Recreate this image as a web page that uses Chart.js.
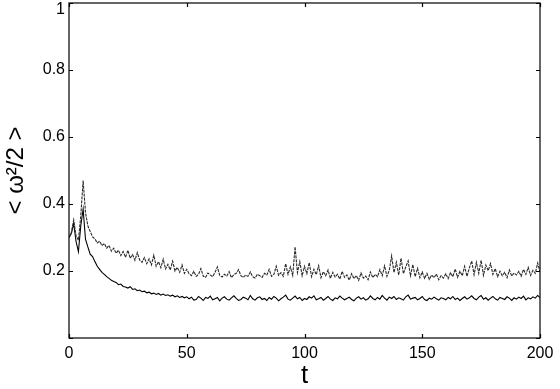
<!DOCTYPE html>
<html>
<head>
<meta charset="utf-8">
<script src="https://cdn.jsdelivr.net/npm/chart.js@4"></script>
<style>
  html, body { margin: 0; padding: 0; background: #fff; }
  #box { width: 560px; height: 389px; }
</style>
</head>
<body>
<div id="box"><canvas id="enstrophy"></canvas></div>
<script>
// time samples, t = 0 .. 200 (one per unit of time)
const times = Array.from({length: 201}, (_, i) => i);

const xTicks = [0, 50, 100, 150, 200];
const yTicks = [0, 0.2, 0.4, 0.6, 0.8, 1];

// lower curve (settles near 0.12)
const lowerCurve = [
  0.300, 0.312, 0.342, 0.288, 0.258, 0.335, 0.385, 0.295, 0.272, 0.250, 0.243,
  0.228, 0.214, 0.205, 0.196, 0.190, 0.183, 0.178, 0.172, 0.169, 0.166,
  0.159, 0.161, 0.154, 0.152, 0.149, 0.153, 0.145, 0.147, 0.141, 0.143,
  0.138, 0.140, 0.135, 0.137, 0.132, 0.134, 0.130, 0.133, 0.128, 0.131,
  0.127, 0.129, 0.125, 0.128, 0.123, 0.126, 0.121, 0.124, 0.120, 0.123,
  0.117, 0.122, 0.113, 0.115, 0.124, 0.119, 0.112, 0.121, 0.118, 0.125,
  0.114, 0.117, 0.121, 0.111, 0.119, 0.123, 0.116, 0.113, 0.120, 0.126,
  0.118, 0.112, 0.115, 0.122, 0.119, 0.114, 0.127, 0.117, 0.113, 0.120,
  0.123, 0.115, 0.118, 0.112, 0.121, 0.116, 0.124, 0.119, 0.111, 0.117,
  0.122, 0.128, 0.116, 0.113, 0.119, 0.125, 0.117, 0.121, 0.112, 0.118,
  0.115, 0.123, 0.119, 0.126, 0.114, 0.117, 0.121, 0.113, 0.118, 0.124,
  0.116, 0.112, 0.120, 0.117, 0.125, 0.119, 0.114, 0.118, 0.122, 0.115,
  0.111, 0.119, 0.123, 0.116, 0.120, 0.113, 0.117, 0.126, 0.118, 0.114,
  0.121, 0.116, 0.127, 0.119, 0.113, 0.122, 0.118, 0.124, 0.115, 0.120,
  0.117, 0.113, 0.123, 0.128, 0.116, 0.119, 0.121, 0.114, 0.118, 0.124,
  0.115, 0.112, 0.119, 0.116, 0.122, 0.117, 0.113, 0.120, 0.118, 0.114,
  0.121, 0.117, 0.124, 0.115, 0.119, 0.112, 0.118, 0.123, 0.116, 0.120,
  0.126, 0.118, 0.114, 0.122, 0.127, 0.116, 0.120, 0.113, 0.119, 0.124,
  0.117, 0.113, 0.121, 0.118, 0.115, 0.123, 0.119, 0.112, 0.120, 0.116,
  0.122, 0.118, 0.125, 0.114, 0.120, 0.117, 0.123, 0.119, 0.127, 0.121
];

// upper curve (settles near 0.19, bursty)
const upperCurve = [
  0.300, 0.315, 0.352, 0.305, 0.292, 0.365, 0.470, 0.375, 0.335, 0.318, 0.302,
  0.296, 0.284, 0.289, 0.276, 0.282, 0.268, 0.276, 0.259, 0.268, 0.253,
  0.262, 0.246, 0.258, 0.241, 0.262, 0.238, 0.249, 0.232, 0.255, 0.233,
  0.226, 0.240, 0.222, 0.236, 0.218, 0.247, 0.214, 0.228, 0.210, 0.235,
  0.206, 0.220, 0.203, 0.229, 0.200, 0.211, 0.196, 0.218, 0.193, 0.205,
  0.192, 0.186, 0.199, 0.184, 0.190, 0.207, 0.185, 0.181, 0.194, 0.188,
  0.183, 0.196, 0.212, 0.187, 0.182, 0.190, 0.185, 0.198, 0.180, 0.189,
  0.193, 0.204, 0.186, 0.181, 0.188, 0.184, 0.197, 0.183, 0.179, 0.190,
  0.186, 0.181, 0.193, 0.188, 0.205, 0.184, 0.190, 0.214, 0.187, 0.195,
  0.184, 0.222, 0.190, 0.212, 0.187, 0.272, 0.195, 0.228, 0.186, 0.214,
  0.192, 0.225, 0.183, 0.205, 0.189, 0.216, 0.180, 0.198, 0.186, 0.203,
  0.178, 0.196, 0.182, 0.190, 0.176, 0.199, 0.181, 0.188, 0.173, 0.192,
  0.177, 0.186, 0.172, 0.194, 0.179, 0.185, 0.174, 0.197, 0.180, 0.190,
  0.183, 0.204, 0.186, 0.215, 0.184, 0.202, 0.245, 0.195, 0.226, 0.188,
  0.238, 0.192, 0.212, 0.230, 0.186, 0.219, 0.183, 0.208, 0.180, 0.197,
  0.178, 0.193, 0.175, 0.188, 0.180, 0.191, 0.174, 0.186, 0.179, 0.192,
  0.177, 0.195, 0.183, 0.206, 0.181, 0.199, 0.186, 0.214, 0.184, 0.209,
  0.230, 0.189, 0.226, 0.193, 0.232, 0.187, 0.218, 0.201, 0.222, 0.190,
  0.207, 0.183, 0.199, 0.186, 0.196, 0.180, 0.203, 0.185, 0.194, 0.188,
  0.199, 0.184, 0.205, 0.190, 0.211, 0.187, 0.202, 0.193, 0.224, 0.198
];

const FONT = '"Liberation Sans", Arial, Helvetica, sans-serif';

// box around the plot, inward tick marks, and the "1" label tucked under the top
const boxTicks = {
  id: 'boxTicks',
  afterDraw(chart) {
    const ctx = chart.ctx;
    const a = chart.chartArea;
    const xs = chart.scales.x, ys = chart.scales.y;
    const len = 4;
    ctx.save();
    ctx.strokeStyle = '#000';
    ctx.lineWidth = 1.2;
    ctx.strokeRect(a.left, a.top, a.right - a.left, a.bottom - a.top);
    ctx.beginPath();
    xTicks.forEach(v => {
      const px = Math.round(xs.getPixelForValue(v)) + 0.5;
      ctx.moveTo(px, a.bottom); ctx.lineTo(px, a.bottom - len);
      ctx.moveTo(px, a.top);    ctx.lineTo(px, a.top + len);
    });
    yTicks.forEach(v => {
      const py = Math.round(ys.getPixelForValue(v)) + 0.5;
      ctx.moveTo(a.left, py);  ctx.lineTo(a.left + len, py);
      ctx.moveTo(a.right, py); ctx.lineTo(a.right - len, py);
    });
    ctx.stroke();
    // top tick label would be cut by the canvas edge, so draw it just below
    ctx.fillStyle = '#000';
    ctx.font = '16px ' + FONT;
    ctx.textAlign = 'right';
    ctx.textBaseline = 'middle';
    ctx.fillText('1', a.left - 4, ys.getPixelForValue(1) + 7);
    ctx.restore();
  }
};

const chart = new Chart(document.getElementById('enstrophy'), {
  type: 'line',
  data: {
    labels: times,
    datasets: [
      {
        label: 'upper',
        data: upperCurve,
        borderColor: '#2a2a2a',
        borderWidth: 1.1,
        borderDash: [3, 1],
        pointRadius: 0,
        tension: 0
      },
      {
        label: 'lower',
        data: lowerCurve,
        borderColor: '#000',
        borderWidth: 1.1,
        pointRadius: 0,
        tension: 0
      }
    ]
  },
  options: {
    responsive: true,
    maintainAspectRatio: false,
    animation: false,
    layout: { padding: { top: 3, right: 20, left: 0, bottom: 0 } },
    plugins: {
      legend: { display: false },
      tooltip: { enabled: false }
    },
    scales: {
      x: {
        type: 'linear',
        min: 0,
        max: 200,
        afterFit: s => { s.height = 51; },
        afterBuildTicks: s => { s.ticks = xTicks.map(v => ({ value: v })); },
        grid: { display: false, drawTicks: false },
        border: { display: false },
        ticks: {
          padding: 6,
          maxRotation: 0,
          color: '#000',
          font: { family: FONT, size: 16 },
          callback: v => String(v)
        },
        title: {
          display: true,
          text: 't',
          color: '#000',
          padding: { top: 0, bottom: -2 },
          font: { family: FONT, size: 26 }
        }
      },
      y: {
        min: 0,
        max: 1,
        afterFit: s => { s.width = 69; s.paddingTop = 0; s.paddingBottom = 0; },
        afterBuildTicks: s => { s.ticks = yTicks.map(v => ({ value: v })); },
        grid: { display: false, drawTicks: false },
        border: { display: false },
        ticks: {
          padding: 4,
          color: '#000',
          font: { family: FONT, size: 16 },
          callback: v => (v === 0 || v === 1) ? '' : String(v)
        },
        title: {
          display: true,
          text: '< ω²/2 >',
          color: '#000',
          padding: { top: 2, bottom: 0 },
          font: { family: FONT, size: 24 }
        }
      }
    }
  },
  plugins: [boxTicks]
});
</script>
</body>
</html>
